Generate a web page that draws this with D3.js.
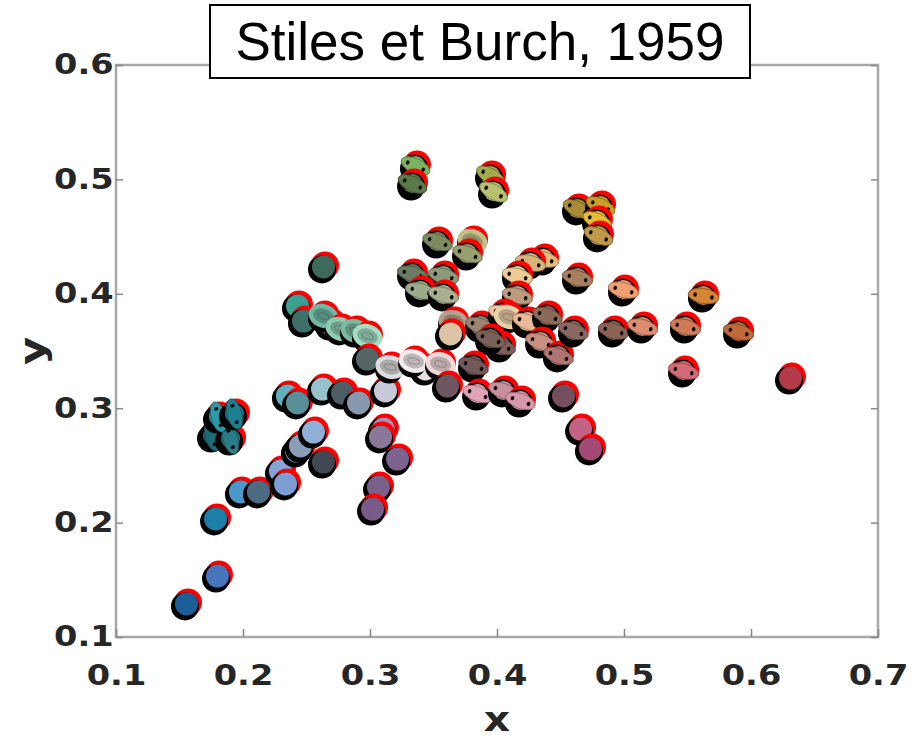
<!DOCTYPE html>
<html>
<head>
<meta charset="utf-8">
<script src="https://cdn.jsdelivr.net/npm/d3@7"></script>
<style>
  body { margin: 0; background: #fff; }
  svg { display: block; }
</style>
</head>
<body>
<script>
// Axis ticks
const xTicks = [0.1, 0.2, 0.3, 0.4, 0.5, 0.6, 0.7];
const yTicks = [0.1, 0.2, 0.3, 0.4, 0.5, 0.6];

// Chromaticity points (x, y), their display colour, glyph type and tilt
// glyph: d = disc, s = ringed ellipse, r = hollow ring
const ptX = [
  0.1551, 0.1795, 0.1780, 0.1976, 0.2118, 0.2291, 0.2331, 0.2417, 0.2449, 0.2551, 0.2630,
  0.1756, 0.1898, 0.1803, 0.1929,
  0.2346, 0.2425, 0.2622, 0.2780, 0.2906, 0.3118,
  0.3102, 0.3079, 0.3213, 0.3063, 0.3016,
  0.2630, 0.2425, 0.2472, 0.2685, 0.2630, 0.2764, 0.2882, 0.2976, 0.2976,
  0.3157, 0.3433, 0.3339, 0.3551,
  0.3354, 0.3331, 0.3945, 0.3969,
  0.3528, 0.3803, 0.3764, 0.3331, 0.3575, 0.3394, 0.3575,
  0.4630, 0.4811, 0.4787, 0.4795,
  0.4362, 0.4260, 0.4157, 0.4630, 0.4157, 0.4992, 0.5622,
  0.4913, 0.5142, 0.5480, 0.5898, 0.5465, 0.6307,
  0.3654, 0.3630, 0.3866, 0.4047, 0.4087, 0.4236, 0.4394,
  0.4024, 0.3945, 0.4339, 0.4480, 0.4598, 0.3811,
  0.3606, 0.3843, 0.4047, 0.4181, 0.4520, 0.4654, 0.4732
];
const ptY = [
  0.1280, 0.1524, 0.2023, 0.2259, 0.2259, 0.2442, 0.2329, 0.2617, 0.2661, 0.2783, 0.2521,
  0.2748, 0.2722, 0.2914, 0.2941,
  0.3098, 0.3037, 0.3159, 0.3124, 0.3037, 0.3142,
  0.2809, 0.2740, 0.2547, 0.2302, 0.2110,
  0.4226, 0.3885, 0.3753, 0.3727, 0.3797, 0.3684, 0.3666, 0.3622, 0.3421,
  0.3351, 0.3334, 0.3404, 0.3378,
  0.5108, 0.4951, 0.5021, 0.4881,
  0.4444, 0.4453, 0.4339, 0.4164, 0.4147, 0.4016, 0.3981,
  0.4733, 0.4759, 0.4628, 0.4497,
  0.4295, 0.4260, 0.4147, 0.4129, 0.3972, 0.4024, 0.3972,
  0.3666, 0.3701, 0.3701, 0.3657, 0.3316, 0.3255,
  0.3745, 0.3640, 0.3710, 0.3815, 0.3788, 0.3745, 0.3797,
  0.3535, 0.3596, 0.3570, 0.3448, 0.3666, 0.3360,
  0.3185, 0.3115, 0.3142, 0.3054, 0.3098, 0.2809, 0.2635
];
const ptColor = [
  "#1f5e98", "#4a74bc", "#1e7fa8", "#4b98cc", "#4d6c84", "#86a4d8", "#7c9cd4", "#7090b8", "#8a9cb8", "#90b0d8", "#404a52",
  "#1c6a74", "#2a7c86", "#2a9aa6", "#1d8090",
  "#5fb0bc", "#5a8f9a", "#98c2cc", "#4e5e66", "#8a98ae", "#c8c8d8",
  "#a890b8", "#8a7898", "#7c6490", "#7a6088", "#7a5a88",
  "#3e6a5a", "#3aa090", "#3e7068", "#4a6a62", "#70b8a4", "#90ccb4", "#7ab8a0", "#a4dcc4", "#566666",
  "#dcdcdc", "#e8e0e0", "#f2ecec", "#f0d8d8",
  "#7ab464", "#5c7a4a", "#a4aa50", "#b8c070",
  "#7c8c60", "#c0c088", "#98a070", "#6c7c62", "#8c9a7a", "#9cac8a", "#a8b090",
  "#a88c34", "#c8a028", "#e8bc30", "#c09a48",
  "#e4bc7c", "#d8b47c", "#eccc94", "#a88060", "#bc9c7c", "#f0a070", "#d48430",
  "#8c6452", "#dc8c70", "#d07a58", "#c06a3a", "#d46a74", "#b43a4a",
  "#b4a08c", "#dcc4a4", "#9c8474", "#f0c8a0", "#ecd0aa", "#e8b898", "#8c6a5a",
  "#7e6058", "#7a6058", "#c89080", "#b07470", "#8a6862", "#725a5a",
  "#6e5660", "#e0a4b6", "#c8909e", "#d898ac", "#74505e", "#c46284", "#a44a74"
];
const ptGlyph = [
  "d", "d", "d", "d", "d", "d", "d", "d", "d", "d", "d",
  "s", "s", "s", "s",
  "d", "d", "d", "d", "d", "d",
  "d", "d", "d", "d", "d",
  "d", "d", "d", "d", "r", "r", "r", "r", "d",
  "r", "d", "r", "r",
  "s", "s", "s", "s",
  "s", "r", "s", "s", "s", "s", "s",
  "s", "s", "s", "s",
  "s", "s", "s", "s", "s", "s", "s",
  "s", "s", "s", "s", "s", "d",
  "r", "d", "s", "s", "r", "s", "s",
  "s", "s", "s", "s", "s", "s",
  "d", "s", "s", "s", "d", "d", "d"
];
const ptTilt = [
  0, 0, 0, 0, 0, 0, 0, 0, 0, 0, 0,
  75, 75, 75, 75,
  0, 0, 0, 0, 0, 0,
  0, 0, 0, 0, 0,
  0, 0, 0, 0, 20, 20, 20, 20, 0,
  15, 0, 15, 15,
  25, 25, 30, 30,
  20, 20, 20, 15, 15, 15, 15,
  25, 25, 25, 25,
  15, 15, 15, 15, 15, 15, 10,
  15, 15, 15, 15, 15, 0,
  15, 0, 20, 20, 20, 20, 20,
  20, 20, 20, 20, 20, 20,
  0, 20, 20, 20, 0, 0, 0
];

const W = 918, H = 741;
const svg = d3.select("body").append("svg").attr("width", W).attr("height", H);

const x = d3.scaleLinear().domain([0.1, 0.7]).range([116, 878]);
const y = d3.scaleLinear().domain([0.1, 0.6]).range([637, 65]);

const defs = svg.append("defs");
defs.append("filter").attr("id", "soft")
  .append("feGaussianBlur").attr("stdDeviation", 0.6);

const axisColor = "#a8a8a8";
const labelColor = "#262626";
const tickFont = "'DejaVu Sans', Verdana, sans-serif";

// Frame
svg.append("rect")
  .attr("x", x(0.1)).attr("y", y(0.6))
  .attr("width", x(0.7) - x(0.1)).attr("height", y(0.1) - y(0.6))
  .attr("fill", "none").attr("stroke", axisColor).attr("stroke-width", 2.5);

function styleAxis(g) {
  g.select(".domain").remove();
  g.selectAll(".tick line").attr("stroke", "#888").attr("stroke-width", 1.5);
  g.selectAll(".tick text")
    .attr("fill", labelColor)
    .style("font-family", tickFont)
    .style("font-weight", "bold")
    .style("font-size", "28px");
}

// Bottom axis
const gx = svg.append("g")
  .attr("transform", `translate(0,${y(0.1)})`)
  .call(d3.axisBottom(x).tickValues(xTicks).tickFormat(d3.format(".1f"))
    .tickSizeInner(-8).tickSizeOuter(0).tickPadding(28));
styleAxis(gx);
gx.selectAll(".tick text").attr("transform", "scale(1.2,1)");

// Left axis
const gy = svg.append("g")
  .attr("transform", `translate(${x(0.1)},0)`)
  .call(d3.axisLeft(y).tickValues(yTicks).tickFormat(d3.format(".1f"))
    .tickSizeInner(-7).tickSizeOuter(0).tickPadding(2));
styleAxis(gy);
gy.selectAll(".tick text").attr("transform", "scale(1.2,1)");

// Right axis (ticks only)
const gr = svg.append("g")
  .attr("transform", `translate(${x(0.7)},0)`)
  .call(d3.axisRight(y).tickValues(yTicks).tickFormat("")
    .tickSizeInner(-7).tickSizeOuter(0));
styleAxis(gr);

// Axis titles
svg.append("text")
  .attr("transform", `translate(${x(0.4)},731) scale(1.2,1)`)
  .attr("text-anchor", "middle")
  .attr("fill", labelColor)
  .style("font-family", tickFont).style("font-weight", "bold").style("font-size", "34px")
  .text("x");
svg.append("text")
  .attr("transform", `translate(45,${y(0.35)}) rotate(-90) scale(1.2,1)`)
  .attr("text-anchor", "middle")
  .attr("fill", labelColor)
  .style("font-family", tickFont).style("font-weight", "bold").style("font-size", "36px")
  .text("y");

// Markers
const plot = svg.append("g").attr("filter", "url(#soft)");
const pts = plot.selectAll("g.pt").data(d3.range(ptX.length)).join("g")
  .attr("class", "pt")
  .attr("transform", i => `translate(${x(ptX[i])},${y(ptY[i])})`);

pts.append("circle").attr("cx", 2).attr("cy", -2.5).attr("r", 14).attr("fill", "#ff0000");
pts.append("circle").attr("cx", -1).attr("cy", 1.5).attr("r", 14).attr("fill", "#000");

pts.each(function (i) {
  const g = d3.select(this);
  const c = d3.color(ptColor[i]);
  const t = ptTilt[i];
  if (ptGlyph[i] === "d") {
    g.append("circle").attr("cx", 0.5).attr("cy", -1).attr("r", 11.5).attr("fill", c);
  } else if (ptGlyph[i] === "s") {
    g.append("circle").attr("cx", 0.5).attr("cy", -1.5).attr("r", 9.5).attr("fill", c);
    const e = g.append("g").attr("transform", `translate(0.5,-1) rotate(${t})`);
    e.append("ellipse").attr("rx", 15.5).attr("ry", 7.5)
      .attr("fill", c).attr("stroke", c.darker(1.2)).attr("stroke-width", 0.8);
    e.append("ellipse").attr("cx", -8.5).attr("cy", 0).attr("rx", 1.8).attr("ry", 2.2).attr("fill", "#111");
    e.append("ellipse").attr("cx", 8.5).attr("cy", 0).attr("rx", 1.8).attr("ry", 2.2).attr("fill", "#111");
  } else {
    const e = g.append("g").attr("transform", `translate(0.5,-1) rotate(${t})`);
    e.append("ellipse").attr("rx", 13).attr("ry", 9.5)
      .attr("fill", c.darker(0.7)).attr("stroke", c).attr("stroke-width", 4.5);
    e.append("ellipse").attr("rx", 6).attr("ry", 3)
      .attr("fill", "none").attr("stroke", c.darker(1.3)).attr("stroke-width", 1.2);
  }
});

// Title box
const tb = svg.append("g");
tb.append("rect").attr("x", 210).attr("y", 5).attr("width", 540).attr("height", 73)
  .attr("fill", "#fff").attr("stroke", "#000").attr("stroke-width", 2);
tb.append("text").attr("x", 480).attr("y", 60).attr("text-anchor", "middle")
  .style("font-family", "'Liberation Sans', Arial, sans-serif").style("font-size", "53px")
  .attr("fill", "#000")
  .text("Stiles et Burch, 1959");
</script>
</body>
</html>
